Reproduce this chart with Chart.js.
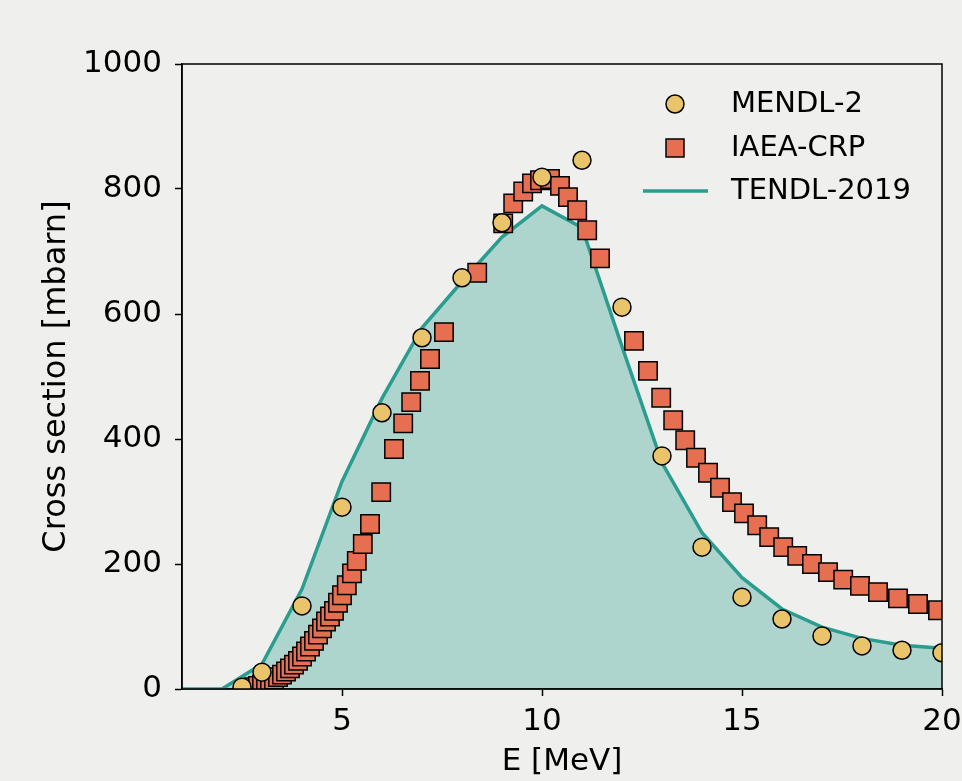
<!DOCTYPE html>
<html>
<head>
<meta charset="utf-8">
<script src="https://cdn.jsdelivr.net/npm/chart.js@4"></script>
<style>
  html, body { margin: 0; padding: 0; background: #efefed; }
  #wrap { width: 962px; height: 781px; }
</style>
</head>
<body>
<div id="wrap"><canvas id="myChart" width="962" height="781"></canvas></div>
<script>
// MENDL-2 points
const mendlE = [2.5, 3, 4, 5, 6, 7, 8, 9, 10, 11, 12, 13, 14, 15, 16, 17, 18, 19, 20];
const mendlXS = [3, 27, 133, 291, 442, 562, 658, 746, 819, 846, 611, 373, 227, 147, 112, 85, 69, 62, 58];

// IAEA-CRP recommended values
const iaeaE = [2.7, 2.8, 2.9, 3.0, 3.1, 3.2, 3.3, 3.4, 3.5, 3.6, 3.7, 3.8, 3.9, 4.0, 4.1, 4.2, 4.3, 4.4, 4.5, 4.6, 4.7,
  4.8, 4.9, 5.0, 5.12, 5.25, 5.37, 5.52, 5.7, 5.98, 6.3, 6.53, 6.73, 6.95, 7.2, 7.55, 8.38,
  9.03, 9.28, 9.53, 9.75, 9.95, 10.2, 10.45, 10.65, 10.88, 11.13, 11.45, 12.3, 12.65, 12.98,
  13.28, 13.58, 13.85, 14.15, 14.45, 14.75, 15.05, 15.38, 15.68, 16.03, 16.38, 16.75, 17.15,
  17.53, 17.95, 18.4, 18.9, 19.4, 19.9];
const iaeaXS = [1, 3, 5, 7, 9, 12, 15, 19, 23, 28, 33, 39, 45, 52, 60, 68, 77, 87, 97, 108, 116,
  125, 138, 150, 166, 185, 205, 232, 264, 315, 384, 425, 459, 493, 528, 571, 666,
  745, 777, 796, 809, 814, 816, 805, 787, 766, 734, 689, 557, 509, 466,
  430, 398, 370, 346, 322, 299, 281, 262, 243, 227, 213, 200, 187,
  175, 165, 155, 145, 136, 126];

// TENDL-2019 evaluation
const tendlE = [1, 2, 3, 4, 5, 6, 7, 8, 9, 10, 11, 12, 13, 14, 15, 16, 17, 18, 19, 20];
const tendlXS = [0, 0, 40, 160, 332, 465, 578, 652, 723, 773, 738, 548, 362, 250, 178, 128, 99, 81, 70, 65];

const xTicks = [5, 10, 15, 20];
const yTicks = [0, 200, 400, 600, 800, 1000];

const font = '"DejaVu Sans"';
const teal = '#2a9d8f';
const yellow = '#e9c46a';
const orange = '#e76f51';

const toPoints = (xs, ys) => xs.map((x, i) => ({ x: x, y: ys[i] }));

const bgPlugin = {
  id: 'bg',
  beforeDraw(chart) {
    const ctx = chart.ctx;
    ctx.save();
    ctx.fillStyle = '#efefed';
    ctx.fillRect(0, 0, chart.width, chart.height);
    ctx.restore();
  }
};

// top/right spines, drawn over the data like matplotlib
const framePlugin = {
  id: 'frame',
  afterDatasetsDraw(chart) {
    const { ctx, chartArea: a } = chart;
    ctx.save();
    ctx.strokeStyle = '#000';
    ctx.lineWidth = 1.5;
    ctx.strokeRect(a.left, a.top, a.right - a.left, a.bottom - a.top);
    ctx.restore();
  }
};

// legend inside the axes, upper right, no frame
const legendPlugin = {
  id: 'innerLegend',
  afterDraw(chart) {
    const { ctx, chartArea: a } = chart;
    const mx = a.right - 267;
    const tx = a.right - 211;
    const rows = [a.top + 40, a.top + 84, a.top + 127];
    ctx.save();
    ctx.lineWidth = 1.5;
    ctx.strokeStyle = '#000';
    ctx.fillStyle = yellow;
    ctx.beginPath();
    ctx.arc(mx, rows[0], 9, 0, Math.PI * 2);
    ctx.fill();
    ctx.stroke();
    ctx.fillStyle = orange;
    ctx.fillRect(mx - 9, rows[1] - 9, 18, 18);
    ctx.strokeRect(mx - 9, rows[1] - 9, 18, 18);
    ctx.strokeStyle = teal;
    ctx.lineWidth = 3.5;
    ctx.beginPath();
    ctx.moveTo(mx - 32, rows[2]);
    ctx.lineTo(mx + 33, rows[2]);
    ctx.stroke();
    ctx.fillStyle = '#000';
    ctx.font = '29px ' + font;
    ctx.textBaseline = 'middle';
    ctx.textAlign = 'left';
    ['MENDL-2', 'IAEA-CRP', 'TENDL-2019'].forEach((t, i) => ctx.fillText(t, tx, rows[i]));
    ctx.restore();
  }
};

const ctx = document.getElementById('myChart').getContext('2d');
const chart = new Chart(ctx, {
  type: 'scatter',
  data: {
    datasets: [
      {
        label: 'MENDL-2',
        data: toPoints(mendlE, mendlXS),
        pointStyle: 'circle',
        pointRadius: 9,
        pointBackgroundColor: yellow,
        pointBorderColor: '#000',
        pointBorderWidth: 1.5,
        showLine: false,
        clip: 0,
        order: 0,
      },
      {
        label: 'IAEA-CRP',
        data: toPoints(iaeaE, iaeaXS),
        pointStyle: 'rect',
        pointRadius: 13,
        pointBackgroundColor: orange,
        pointBorderColor: '#000',
        pointBorderWidth: 1.5,
        showLine: false,
        clip: 0,
        order: 1,
      },
      {
        label: 'TENDL-2019',
        data: toPoints(tendlE, tendlXS),
        showLine: true,
        pointRadius: 0,
        borderColor: teal,
        borderWidth: 3.5,
        backgroundColor: 'rgba(42,157,143,0.33)',
        fill: 'origin',
        tension: 0,
        clip: 0,
        order: 2,
      },
    ],
  },
  options: {
    responsive: false,
    animation: false,
    events: [],
    layout: { padding: { top: 64, right: 20, left: 0, bottom: 0 } },
    plugins: {
      legend: { display: false },
      tooltip: { enabled: false },
    },
    scales: {
      x: {
        type: 'linear',
        min: 1,
        max: 20,
        afterBuildTicks: (scale) => { scale.ticks = xTicks.map((v) => ({ value: v })); },
        afterFit: (scale) => {
          scale.height = 92;
          scale.paddingLeft = 0;
          scale.paddingRight = 0;
        },
        grid: { drawOnChartArea: false, drawTicks: true, tickLength: 7, color: '#000', tickWidth: 1.5 },
        border: { display: true, color: '#000', width: 1.5 },
        ticks: { color: '#000', font: { family: font, size: 31 }, padding: 7, maxRotation: 0, callback: (v) => String(v) },
        title: { display: true, text: 'E [MeV]', color: '#000', font: { family: font, size: 31 }, padding: { top: 0, bottom: 0 } },
      },
      y: {
        type: 'linear',
        min: 0,
        max: 1000,
        afterBuildTicks: (scale) => { scale.ticks = yTicks.map((v) => ({ value: v })); },
        afterFit: (scale) => {
          scale.width = 182;
          scale.paddingTop = 0;
          scale.paddingBottom = 0;
        },
        grid: { drawOnChartArea: false, drawTicks: true, tickLength: 7, color: '#000', tickWidth: 1.5 },
        border: { display: true, color: '#000', width: 1.5 },
        ticks: { color: '#000', font: { family: font, size: 31 }, padding: 13, callback: (v) => String(v) },
        title: { display: true, text: 'Cross section [mbarn]', color: '#000', font: { family: font, size: 32 }, padding: { top: 37, bottom: 0 } },
      },
    },
  },
  plugins: [bgPlugin, framePlugin, legendPlugin],
});
</script>
</body>
</html>
